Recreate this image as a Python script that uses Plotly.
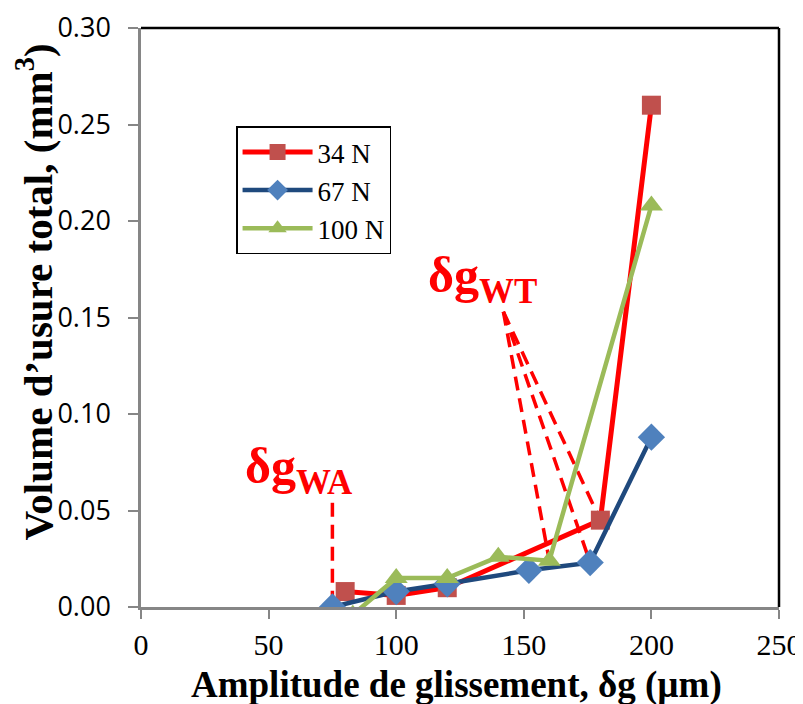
import plotly.graph_objects as go

# ---- data ----
x_34 = [80, 100, 120, 180, 200]
y_34 = [0.008, 0.006, 0.010, 0.045, 0.260]
x_67 = [75, 100, 120, 152, 176, 200]
y_67 = [0.000, 0.008, 0.012, 0.019, 0.023, 0.088]
x_100 = [83, 100, 120, 140, 160, 200]
y_100 = [-0.004, 0.015, 0.015, 0.026, 0.024, 0.208]
series_names = ["34 N", "67 N", "100 N"]
x_ticks = [0, 50, 100, 150, 200, 250]
y_ticks = [0.00, 0.05, 0.10, 0.15, 0.20, 0.25, 0.30]

# callout anchors (data coordinates)
wa_label = (62, 0.071)
wa_top = 0.054
wt_label = (134, 0.170)
wt_apex = (142, 0.153)

SERIF = "Liberation Serif"

fig = go.Figure()
fig.add_trace(go.Scatter(x=x_34, y=y_34, name=series_names[0], mode="lines+markers",
                         line=dict(color="#FF0000", width=5),
                         marker=dict(symbol="square", size=19, color="#C0504D")))
fig.add_trace(go.Scatter(x=x_67, y=y_67, name=series_names[1], mode="lines+markers",
                         line=dict(color="#1F497D", width=4.5),
                         marker=dict(symbol="diamond", size=21, color="#4F81BD")))
fig.add_trace(go.Scatter(x=x_100, y=y_100, name=series_names[2], mode="lines+markers",
                         line=dict(color="#9BBB59", width=4.5),
                         marker=dict(symbol="triangle-up", size=20, color="#9BBB59")))

dash = dict(color="#FF0000", width=3.5, dash="14px,8px")
shapes = []
shapes.append(dict(type="line", xref="x", yref="y", x0=x_67[0], x1=x_67[0],
                   y0=wa_top, y1=y_67[0], line=dash, layer="below"))
for (tx, ty) in [(x_100[4], y_100[4]), (x_67[4], y_67[4]), (x_34[3], y_34[3])]:
    shapes.append(dict(type="line", xref="x", yref="y", x0=wt_apex[0], y0=wt_apex[1],
                       x1=tx, y1=ty, line=dash, layer="below"))
shapes.append(dict(type="line", xref="paper", yref="paper", x0=0, x1=1, y0=1, y1=1,
                   line=dict(color="black", width=2.5)))
shapes.append(dict(type="line", xref="paper", yref="paper", x0=1, x1=1, y0=0, y1=1,
                   line=dict(color="black", width=2.5)))

annotations = [
    dict(x=wa_label[0], y=wa_label[1], xref="x", yref="y", text="δg<sub>WA</sub>",
         showarrow=False, xanchor="center", yanchor="middle",
         font=dict(family=SERIF, size=50, color="#FF0000", weight="bold")),
    dict(x=wt_label[0], y=wt_label[1], xref="x", yref="y", text="δg<sub>WT</sub>",
         showarrow=False, xanchor="center", yanchor="middle",
         font=dict(family=SERIF, size=50, color="#FF0000", weight="bold")),
    dict(x=0, y=0.5, xref="paper", yref="paper", xshift=-107, yshift=25,
         xanchor="center", yanchor="middle",
         text="Volume d’usure total, (mm<sup>3</sup>)", textangle=-90, showarrow=False,
         font=dict(family=SERIF, size=41, color="black", weight="bold")),
    dict(x=0.5, y=0, xref="paper", yref="paper", yshift=-78, xshift=-4,
         xanchor="center", yanchor="middle",
         text="Amplitude de glissement, δg (µm)", showarrow=False,
         font=dict(family=SERIF, size=37, color="black", weight="bold")),
]

fig.update_layout(
    width=803, height=704,
    margin=dict(l=133, r=32, t=20, b=105, autoexpand=False),
    paper_bgcolor="white", plot_bgcolor="white",
    shapes=shapes, annotations=annotations,
    legend=dict(x=0.149, y=0.83, xanchor="left", yanchor="top",
                bordercolor="black", borderwidth=1.5, bgcolor="white",
                font=dict(family=SERIF, size=27, color="black"),
                itemwidth=70, tracegroupgap=0),
    showlegend=True,
)
fig.update_xaxes(range=[0, 250], tickvals=x_ticks, ticktext=[str(v) for v in x_ticks],
                 showgrid=False, zeroline=False, showline=True, linecolor="#868686", linewidth=2.5,
                 ticks="outside", ticklen=9, tickwidth=2, tickcolor="#868686",
                 tickfont=dict(family=SERIF, size=30, color="black"), automargin=False)
fig.update_yaxes(range=[0, 0.3], tickvals=y_ticks, ticktext=[f"{v:.2f}" for v in y_ticks],
                 showgrid=False, zeroline=False, showline=True, linecolor="#868686", linewidth=2.5,
                 ticks="outside", ticklen=10, tickwidth=2, tickcolor="#868686", ticklabelstandoff=12,
                 tickfont=dict(family="Open Sans", size=27, color="black"), automargin=False)

fig.write_html("out.html")
